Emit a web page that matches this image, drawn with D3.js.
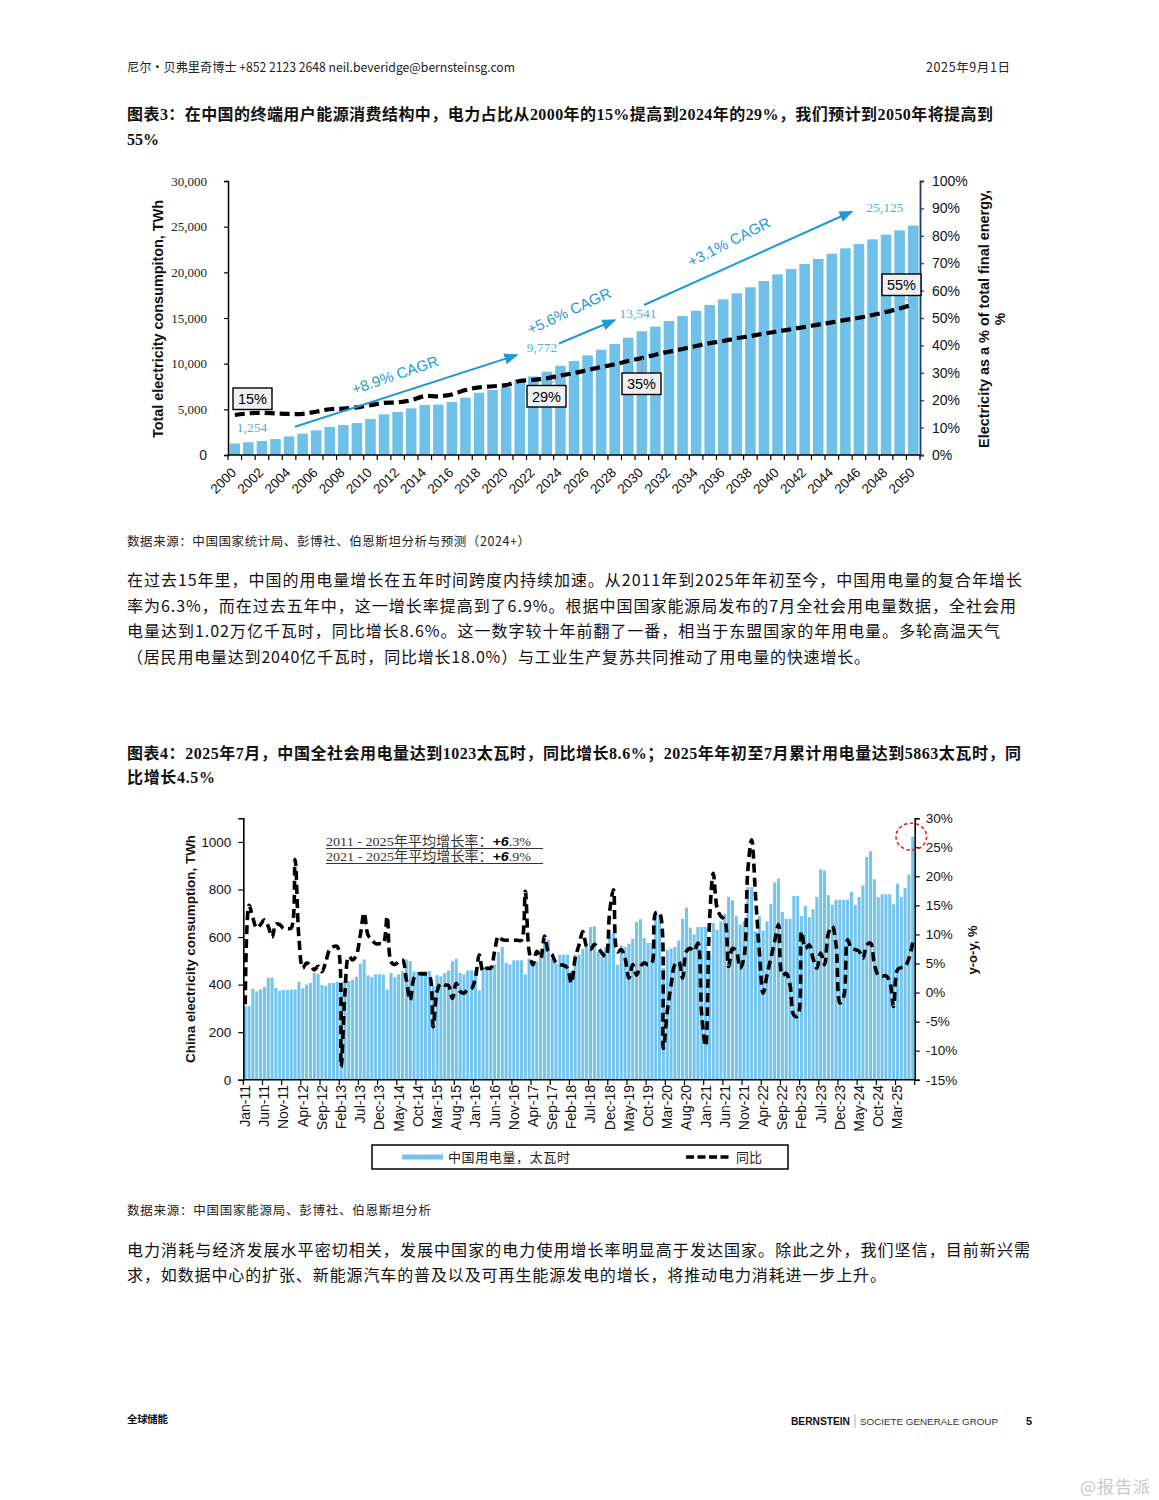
<!DOCTYPE html>
<html><head><meta charset="utf-8">
<script src="https://cdn.jsdelivr.net/npm/d3@7"></script>
<style>
body{margin:0;background:#fff;}
</style></head><body>
<svg id="page" width="1159" height="1500" font-family='"Noto Sans CJK SC","Liberation Sans",sans-serif'></svg>
<script>
// ---------------- DATA ----------------
// Chart 1 (图表3)
const years1 = ["2000","2001","2002","2003","2004","2005","2006","2007","2008","2009","2010","2011","2012","2013","2014","2015","2016","2017","2018","2019","2020","2021","2022","2023","2024","2025","2026","2027","2028","2029","2030","2031","2032","2033","2034","2035","2036","2037","2038","2039","2040","2041","2042","2043","2044","2045","2046","2047","2048","2049","2050"];
const elec1 = [1254,1390,1530,1750,2040,2340,2700,3070,3280,3500,3940,4450,4710,5110,5470,5510,5800,6280,6820,7120,7410,8300,8600,9120,9772,10290,10910,11530,12150,12850,13541,14050,14670,15220,15800,16420,17040,17700,18360,19050,19780,20360,20910,21460,22040,22630,23100,23610,24120,24600,25125];
const share1 = [14.6,15.2,15.4,15.2,15.0,15.0,15.8,16.7,16.9,17.4,18.2,19.0,19.2,20.0,21.5,21.4,22.1,23.7,24.7,25.1,25.5,27.0,27.4,28.0,29.0,29.9,31.0,32.1,33.1,34.3,35.4,36.6,37.7,38.7,39.8,40.8,41.6,42.6,43.4,44.3,45.1,45.9,46.7,47.6,48.4,49.3,50.1,51.1,52.2,53.5,54.9];
const leftTicks1 = [0,5000,10000,15000,20000,25000,30000];
const rightTicks1 = [0,10,20,30,40,50,60,70,80,90,100];
const xLabels1 = ["2000","2002","2004","2006","2008","2010","2012","2014","2016","2018","2020","2022","2024","2026","2028","2030","2032","2034","2036","2038","2040","2042","2044","2046","2048","2050"];
const valueLabels1 = [{year:"2000",text:"1,254"},{year:"2024",text:"9,772"},{year:"2030",text:"13,541"},{year:"2050",text:"25,125"}];
const boxLabels1 = ["15%","29%","35%","55%"];
const cagrLabels1 = ["+8.9% CAGR","+5.6% CAGR","+3.1% CAGR"];

// Chart 2 (图表4)
const monthNames = ["Jan","Feb","Mar","Apr","May","Jun","Jul","Aug","Sep","Oct","Nov","Dec"];
const years2 = ["11","12","13","14","15","16","17","18","19","20","21","22","23","24","25"];
const elec2 = [
 309,309,383,372,380,390,429,429,386,374,377,377,
 380,380,412,385,400,407,449,445,398,394,407,407,
 412,412,418,415,421,433,488,506,439,432,443,443,
 443,379,449,431,443,456,506,499,455,453,457,457,
 457,395,440,435,449,460,498,509,449,443,460,460,
 460,376,471,474,463,485,537,558,492,485,502,502,
 502,443,509,488,498,547,593,589,509,488,526,526,
 526,455,526,526,551,560,642,645,537,537,558,618,
 618,484,565,558,572,593,663,675,596,575,575,700,
 690,470,545,552,558,586,677,724,640,611,642,642,
 642,525,659,631,666,698,769,754,688,653,667,810,
 810,623,689,628,666,740,829,846,705,677,677,773,
 773,689,731,684,717,769,885,880,776,736,757,757,
 757,757,790,736,769,818,937,961,843,769,780,780,
 780,738,825,769,806,863,1023];
const yoy2 = [
 -2.0,15.0,12.8,11.1,11.7,12.5,11.4,9.5,11.8,11.7,11.0,11.0,
 11.1,22.9,9.4,4.2,5.1,4.7,3.9,4.5,3.6,5.3,7.4,7.9,
 7.9,-12.8,0.0,6.2,5.6,6.5,9.9,13.7,9.9,9.1,8.4,8.4,
 8.5,13.1,5.3,4.8,5.3,5.6,2.2,-1.3,2.5,3.2,3.2,3.2,
 3.0,-5.9,0.2,1.6,1.3,1.2,-1.0,1.6,0.2,-0.1,0.5,0.7,
 2.5,6.5,3.6,4.2,4.2,7.1,9.7,9.1,9.0,9.0,9.0,9.0,
 9.0,17.4,7.1,4.8,7.1,5.9,9.7,7.1,6.5,5.1,4.8,4.7,
 4.2,1.6,5.9,8.2,10.5,7.9,7.4,8.3,7.6,6.8,6.2,14.0,
 17.7,7.0,7.4,5.9,2.5,4.8,3.0,4.5,5.1,4.8,5.1,13.7,
 13.7,-9.6,-3.3,1.3,4.8,5.3,2.5,7.1,7.6,7.1,8.5,-4.0,
 -9.2,12.0,20.5,14.5,13.1,12.5,4.5,7.6,7.1,4.2,6.0,21.0,
 26.3,16.8,7.1,-0.1,3.0,5.9,8.8,11.7,3.0,3.3,1.3,-3.9,
 -4.1,10.5,7.6,8.2,5.9,4.2,6.8,4.8,10.2,11.4,8.2,-1.8,
 -0.7,9.1,7.6,7.4,7.1,5.9,8.2,8.5,4.8,3.0,2.8,2.9,
 1.9,-2.4,3.9,4.3,4.5,5.9,8.6];
const leftTicks2 = [0,200,400,600,800,1000];
const rightTicks2 = [-15,-10,-5,0,5,10,15,20,25,30];
const legend2 = ["中国用电量，太瓦时","同比"];

// ---------------- PAGE ----------------
const svg = d3.select("#page");
function T(x,y,s,o={}){
  const t=svg.append("text").attr("x",x).attr("y",y).text(s)
    .attr("font-size",o.fs||16).attr("fill",o.fill||"#111");
  if(o.fw) t.attr("font-weight",o.fw);
  if(o.ff) t.attr("font-family",o.ff);
  if(o.w) t.attr("textLength",o.w).attr("lengthAdjust",o.adj||"spacing");
  if(o.anchor) t.attr("text-anchor",o.anchor);
  return t;
}
const serifCJK = '"Liberation Serif","Noto Sans CJK SC",serif';
T(127,72,"尼尔・贝弗里奇博士 +852 2123 2648 neil.beveridge@bernsteinsg.com",{fs:12.5,w:388,fill:"#222",adj:"spacingAndGlyphs"});
T(926,72,"2025年9月1日",{fs:12.5,w:84,fill:"#222"});
T(127,120,"图表3：在中国的终端用户能源消费结构中，电力占比从2000年的15%提高到2024年的29%，我们预计到2050年将提高到",{fs:16,fw:"bold",ff:serifCJK,w:866});
T(127,145,"55%",{fs:16,fw:"bold",ff:serifCJK});
T(127,546,"数据来源：中国国家统计局、彭博社、伯恩斯坦分析与预测（2024+）",{fs:12.5,w:403,fill:"#222"});
const p1=["在过去15年里，中国的用电量增长在五年时间跨度内持续加速。从2011年到2025年年初至今，中国用电量的复合年增长",
"率为6.3%，而在过去五年中，这一增长率提高到了6.9%。根据中国国家能源局发布的7月全社会用电量数据，全社会用",
"电量达到1.02万亿千瓦时，同比增长8.6%。这一数字较十年前翻了一番，相当于东盟国家的年用电量。多轮高温天气",
"（居民用电量达到2040亿千瓦时，同比增长18.0%）与工业生产复苏共同推动了用电量的快速增长。"];
const p1w=[895,889,873,743];
p1.forEach((s,i)=>T(127,586+i*25.7,s,{fs:16,w:p1w[i]}));
T(127,759,"图表4：2025年7月，中国全社会用电量达到1023太瓦时，同比增长8.6%；2025年年初至7月累计用电量达到5863太瓦时，同",{fs:16,fw:"bold",ff:serifCJK,w:894});
T(127,783,"比增长4.5%",{fs:16,fw:"bold",ff:serifCJK,w:88});
T(127,1215,"数据来源：中国国家能源局、彭博社、伯恩斯坦分析",{fs:12.5,w:304,fill:"#222"});
T(127,1256,"电力消耗与经济发展水平密切相关，发展中国家的电力使用增长率明显高于发达国家。除此之外，我们坚信，目前新兴需",{fs:16,w:903});
T(127,1281,"求，如数据中心的扩张、新能源汽车的普及以及可再生能源发电的增长，将推动电力消耗进一步上升。",{fs:16,w:759});
T(127,1423,"全球储能",{fs:10.5,fw:"bold",w:41});
T(791,1425,"BERNSTEIN",{fs:11.5,fw:"bold",ff:'"Liberation Sans Narrow","Liberation Sans",sans-serif',w:59,adj:"spacingAndGlyphs"});
svg.append("line").attr("x1",855).attr("x2",855).attr("y1",1414).attr("y2",1428).attr("stroke","#999").attr("stroke-width",0.8);
T(860,1425,"SOCIETE GENERALE GROUP",{fs:9.5,ff:'"Liberation Sans",sans-serif',w:138,fill:"#333",adj:"spacingAndGlyphs"});
T(1026,1425,"5",{fs:11,fw:"bold",ff:'"Liberation Sans",sans-serif'});
T(1080,1493,"@报告派",{fs:17,fill:"#c8c8c8",w:70});

// ---------------- CHART 1 ----------------
const arial='"Liberation Sans",Arial,sans-serif';
const times='"Liberation Serif","Times New Roman",serif';
const blue1="#70c1ea";
const x1 = d3.scaleBand().domain(years1).range([228,920]).paddingInner(0.22).paddingOuter(0.11);
const y1 = d3.scaleLinear().domain([0,30000]).range([455,181]);
const r1 = d3.scaleLinear().domain([0,100]).range([455,181]);
const g1 = svg.append("g");
g1.selectAll("rect").data(years1).join("rect")
  .attr("x",d=>x1(d)).attr("width",x1.bandwidth())
  .attr("y",(d,i)=>y1(elec1[i])).attr("height",(d,i)=>y1(0)-y1(elec1[i]))
  .attr("fill",blue1);
// left axis
const ax1 = g1.append("g").attr("transform","translate(228,0)")
  .call(d3.axisLeft(y1).tickValues(leftTicks1).tickSize(4).tickPadding(17).tickFormat(d3.format(",")));
ax1.select(".domain").attr("stroke","#000").attr("stroke-width",1.5);
ax1.selectAll(".tick line").attr("stroke","#000").attr("stroke-width",1.2);
ax1.selectAll(".tick text").attr("font-family",d=>d===0?arial:times).attr("font-size",d=>d===0?14:13).attr("fill","#222");
// right axis
const ar1 = g1.append("g").attr("transform","translate(920,0)")
  .call(d3.axisRight(r1).tickValues(rightTicks1).tickSize(4).tickPadding(8).tickFormat(d=>d+"%"));
ar1.select(".domain").attr("stroke","#1f3a6e").attr("stroke-width",1.8);
ar1.selectAll(".tick line").attr("stroke","#1f3a6e").attr("stroke-width",1.2);
ar1.selectAll(".tick text").attr("font-family",arial).attr("font-size",14).attr("fill","#111");
// bottom axis
g1.append("line").attr("x1",228).attr("x2",920).attr("y1",455).attr("y2",455).attr("stroke","#000").attr("stroke-width",1.5);
const step1=x1.step();
g1.selectAll("line.bt").data(years1.concat(["end"])).join("line").attr("class","bt")
  .attr("x1",(d,i)=>228+i*step1).attr("x2",(d,i)=>228+i*step1).attr("y1",455).attr("y2",460)
  .attr("stroke","#000").attr("stroke-width",1.2);
g1.selectAll("text.xl").data(xLabels1).join("text").attr("class","xl")
  .attr("transform",d=>`translate(${x1(d)+x1.bandwidth()/2-1},470) rotate(-45)`)
  .attr("text-anchor","end").attr("dy","0.35em").attr("font-family",arial).attr("font-size",13.5).attr("fill","#111").text(d=>d);
// share line
const line1 = d3.line().x((d,i)=>x1(years1[i])+x1.bandwidth()/2).y(d=>r1(d)).curve(d3.curveCatmullRom.alpha(0.5));
g1.append("path").attr("d",line1(share1)).attr("fill","none").attr("stroke","#000").attr("stroke-width",4.2).attr("stroke-dasharray","10,5");
// axis titles
g1.append("text").attr("transform","translate(163,319) rotate(-90)").attr("text-anchor","middle")
  .attr("font-family",arial).attr("font-weight","bold").attr("font-size",14).attr("fill","#111")
  .attr("textLength",238).attr("lengthAdjust","spacingAndGlyphs").text("Total electricity consumpiton, TWh");
g1.append("text").attr("transform","translate(989,319) rotate(-90)").attr("text-anchor","middle")
  .attr("font-family",arial).attr("font-weight","bold").attr("font-size",14).attr("fill","#111")
  .attr("textLength",258).attr("lengthAdjust","spacingAndGlyphs").text("Electricity as a % of total final energy,");
g1.append("text").attr("transform","translate(1005,319) rotate(-90)").attr("text-anchor","middle")
  .attr("font-family",arial).attr("font-weight","bold").attr("font-size",14).attr("fill","#111").text("%");
// value labels
const vlPos = {"2000":[252,432],"2024":[542,352],"2030":[638,318],"2050":[885,212]};
valueLabels1.forEach(v=>{
  g1.append("text").attr("x",vlPos[v.year][0]).attr("y",vlPos[v.year][1]).attr("text-anchor","middle")
    .attr("font-family",times).attr("font-size",13.5).attr("fill","#4fb0e3").text(v.text);
});
// CAGR arrows
svg.append("defs").append("marker").attr("id","ah").attr("viewBox","0 0 10 10").attr("refX",9).attr("refY",5)
  .attr("markerWidth",7).attr("markerHeight",7).attr("orient","auto")
  .append("path").attr("d","M0,1 L10,5 L0,9 z").attr("fill","#1e9bd7");
const arrows=[[295,426.7,517,355],[559,343.5,615,320],[644,305,852,211.5]];
arrows.forEach(a=>g1.append("line").attr("x1",a[0]).attr("y1",a[1]).attr("x2",a[2]).attr("y2",a[3])
  .attr("stroke","#1e9bd7").attr("stroke-width",2).attr("marker-end","url(#ah)"));
const cagrPos=[[395,375,-19],[569,311,-25],[729,242,-27]];
cagrLabels1.forEach((s,i)=>g1.append("text").attr("transform",`translate(${cagrPos[i][0]},${cagrPos[i][1]}) rotate(${cagrPos[i][2]})`)
  .attr("text-anchor","middle").attr("dy","0.35em").attr("font-family",arial).attr("font-size",15).attr("fill","#1e9bd7").text(s));
// leader lines
[[550,385,559.5,375.5],[642,372.7,642.5,358],[903,296.5,914,305]].forEach(l=>g1.append("line")
  .attr("x1",l[0]).attr("y1",l[1]).attr("x2",l[2]).attr("y2",l[3]).attr("stroke","#999").attr("stroke-width",1));
// boxes
const boxPos=[[233,388],[527,385.5],[622,373],[882,274]];
boxLabels1.forEach((s,i)=>{
  g1.append("rect").attr("x",boxPos[i][0]).attr("y",boxPos[i][1]).attr("width",39).attr("height",21.5)
    .attr("fill","#f0f0f0").attr("stroke","#000").attr("stroke-width",1.4);
  g1.append("text").attr("x",boxPos[i][0]+19.5).attr("y",boxPos[i][1]+11).attr("dy","0.36em").attr("text-anchor","middle")
    .attr("font-family",arial).attr("font-size",14.5).attr("fill","#000").text(s);
});

// ---------------- CHART 2 ----------------
const months2=[];
years2.forEach(y=>monthNames.forEach(m=>months2.push(m+"-"+y)));
months2.length = elec2.length;
const blue2="#74c4ec";
const x2 = d3.scaleBand().domain(months2).range([243.3,914.7]).paddingInner(0.2).paddingOuter(0.1);
const y2 = d3.scaleLinear().domain([0,1100]).range([1079.7,818.2]);
const r2 = d3.scaleLinear().domain([-15,30]).range([1079.7,818.2]);
const g2 = svg.append("g");
g2.selectAll("rect").data(months2).join("rect")
  .attr("x",d=>x2(d)).attr("width",x2.bandwidth())
  .attr("y",(d,i)=>y2(elec2[i])).attr("height",(d,i)=>y2(0)-y2(elec2[i])).attr("fill",blue2);
const ax2 = g2.append("g").attr("transform","translate(243.3,0)")
  .call(d3.axisLeft(y2).tickValues(leftTicks2).tickSize(5).tickPadding(7).tickFormat(d3.format("d")));
ax2.select(".domain").attr("stroke","#000").attr("stroke-width",1.6);
ax2.selectAll(".tick line").attr("stroke","#000").attr("stroke-width",1.2);
ax2.selectAll(".tick text").attr("font-family",arial).attr("font-size",13.5).attr("fill","#111");
const ar2 = g2.append("g").attr("transform","translate(914.7,0)")
  .call(d3.axisRight(r2).tickValues(rightTicks2).tickSize(5).tickPadding(6).tickFormat(d=>d+"%"));
ar2.select(".domain").attr("stroke","#000").attr("stroke-width",1.6);
ar2.selectAll(".tick line").attr("stroke","#000").attr("stroke-width",1.2);
ar2.selectAll(".tick text").attr("font-family",arial).attr("font-size",13.5).attr("fill","#111");
g2.append("line").attr("x1",243.3).attr("x2",914.7).attr("y1",1079.7).attr("y2",1079.7).attr("stroke","#000").attr("stroke-width",1.6);
const step2=x2.step();
const tickMonths = months2.filter((d,i)=>i%5===0);
g2.selectAll("line.bt").data(tickMonths.concat(["end"])).join("line").attr("class","bt")
  .attr("x1",(d,i)=>243.3+i*5*step2).attr("x2",(d,i)=>243.3+i*5*step2).attr("y1",1079.7).attr("y2",1085)
  .attr("stroke","#000").attr("stroke-width",1.2);
g2.selectAll("text.xl").data(tickMonths).join("text").attr("class","xl")
  .attr("transform",d=>`translate(${x2(d)+x2.bandwidth()/2},1085) rotate(-90)`)
  .attr("text-anchor","end").attr("dy","0.35em").attr("font-family",arial).attr("font-size",14).attr("fill","#111").text(d=>d);
const line2 = d3.line().x((d,i)=>x2(months2[i])+x2.bandwidth()/2).y(d=>r2(d)).curve(d3.curveCatmullRom.alpha(0.5));
g2.append("path").attr("d",line2(yoy2)).attr("fill","none").attr("stroke","#000").attr("stroke-width",3.6).attr("stroke-dasharray","9,5");
// titles
g2.append("text").attr("transform","translate(195,949) rotate(-90)").attr("text-anchor","middle")
  .attr("font-family",arial).attr("font-weight","bold").attr("font-size",13.5).attr("fill","#111")
  .attr("textLength",228).attr("lengthAdjust","spacingAndGlyphs").text("China electricity consumption, TWh");
g2.append("text").attr("transform","translate(977,950) rotate(-90)").attr("text-anchor","middle")
  .attr("font-family",arial).attr("font-weight","bold").attr("font-size",13).attr("fill","#111").text("y-o-y, %");
// annotations
const notes=[["2011 - 2025年平均增长率：","+6",".3%"],["2021 - 2025年平均增长率：","+6",".9%"]];
notes.forEach((n,i)=>{
  const t=g2.append("text").attr("x",326).attr("y",846+i*15).attr("font-size",13.5).attr("fill","#333")
    .attr("textLength",205).attr("lengthAdjust","spacingAndGlyphs");
  t.append("tspan").attr("font-family",serifCJK).text(n[0]);
  t.append("tspan").attr("font-family",arial).attr("font-weight","bold").attr("font-style","italic").attr("fill","#000").text(n[1]);
  t.append("tspan").attr("font-family",times).text(n[2]);
  g2.append("line").attr("x1",326).attr("x2",543).attr("y1",848.5+i*15).attr("y2",848.5+i*15).attr("stroke","#333").attr("stroke-width",1.2);
});
g2.append("ellipse").attr("cx",911.3).attr("cy",836.7).attr("rx",15.3).attr("ry",13.5)
  .attr("fill","none").attr("stroke","#e02424").attr("stroke-width",1.6).attr("stroke-dasharray","3.5,2.5");
// legend
g2.append("rect").attr("x",372).attr("y",1145).attr("width",416).attr("height",24).attr("fill","#fff").attr("stroke","#000").attr("stroke-width",1.5);
g2.append("line").attr("x1",402).attr("x2",443).attr("y1",1157).attr("y2",1157).attr("stroke",blue2).attr("stroke-width",5);
g2.append("text").attr("x",448).attr("y",1162).attr("font-size",13).attr("fill","#222").attr("textLength",122).attr("lengthAdjust","spacing").text(legend2[0]);
g2.append("line").attr("x1",686).attr("x2",731).attr("y1",1157).attr("y2",1157).attr("stroke","#000").attr("stroke-width",3.5).attr("stroke-dasharray","8,3.5");
g2.append("text").attr("x",736).attr("y",1162).attr("font-size",13).attr("fill","#222").text(legend2[1]);
</script>
</body></html>
